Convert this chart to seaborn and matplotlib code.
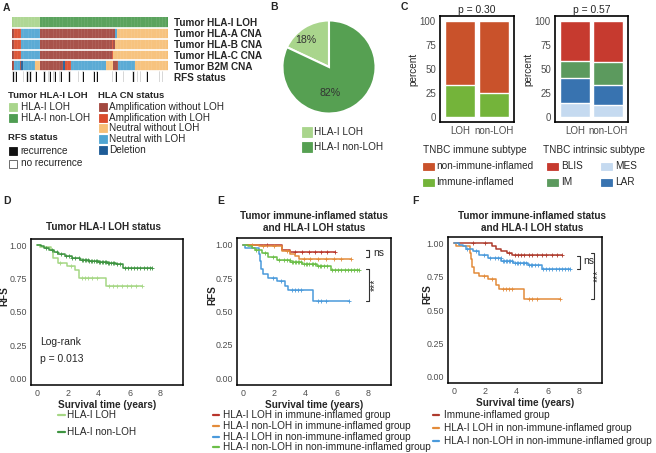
import numpy as np
import matplotlib
matplotlib.use("Agg")
import matplotlib.pyplot as plt
from matplotlib.colors import ListedColormap
from matplotlib.patches import Rectangle
from matplotlib.lines import Line2D
import seaborn as sns

sns.set_theme(style="white")
plt.rcParams["font.family"] = ["Liberation Sans", "DejaVu Sans"]
plt.rcParams["font.size"] = 7

# ---- data -----------------------------------------------------------------
# panel A: heatmap rows as run lengths (code, n samples)
heat_codes = ["HLA-I LOH", "HLA-I non-LOH", "Amplification without LOH",
              "Amplification with LOH", "Neutral without LOH", "Neutral with LOH",
              "Deletion", "no recurrence", "recurrence"]
heat_colors = ["#A9D58C", "#4F9D52", "#A2473E", "#DA4B2C", "#F7BF76",
               "#4FA5D2", "#1E5C97", "#FFFFFF", "#111111"]
row_labels = ["Tumor HLA-I LOH", "Tumor HLA-A CNA", "Tumor HLA-B CNA",
              "Tumor HLA-C CNA", "Tumor B2M CNA", "RFS status"]
loh_runs = [(0, 18), (1, 82)]
hla_a_runs = [(2, 1), (3, 5), (5, 12), (2, 48), (5, 1), (4, 33)]
hla_b_runs = [(2, 1), (3, 5), (5, 12), (2, 46), (3, 1), (2, 1), (4, 34)]
hla_c_runs = [(2, 1), (3, 5), (5, 12), (2, 46), (3, 1), (4, 35)]
b2m_runs = [(2, 1), (5, 4), (2, 1), (6, 1), (5, 8), (4, 3), (2, 15), (6, 1),
            (3, 4), (5, 22), (4, 5), (2, 3), (5, 11), (4, 21)]
recurrence_idx = [0, 1, 2, 7, 9, 10, 11, 12, 15, 20, 21, 23, 24, 26, 27, 30, 31,
                  36, 37, 42, 45, 52, 54, 64, 66, 71, 77, 78, 80, 82, 86, 94, 96]

# panel B
pie_labels = ["HLA-I LOH", "HLA-I non-LOH"]
pie_values = [18, 82]
pie_colors = ["#A9D58C", "#56A052"]

# panel C
c_groups = ["LOH", "non-LOH"]
immune_names = ["non-immune-inflamed", "Immune-inflamed"]
immune_colors = ["#C9522B", "#74B43A"]
immune_inflamed = [33, 25]
non_immune = [67, 75]
intrinsic_colors = {"BLIS": "#C63A2F", "IM": "#5C9A5E", "LAR": "#3873B0", "MES": "#C5DAF0"}
mes = [15, 12.5]
lar = [26, 21]
im = [17, 24]
blis = [42, 42.5]

# panel D
d_loh_t = [0, 0.2, 0.9, 1.07, 1.4, 1.95, 2.5, 2.7, 4.5]
d_loh_s = [1.0, 0.985, 0.965, 0.90, 0.865, 0.84, 0.81, 0.755, 0.69]
d_loh_end = 6.8
d_loh_cens = [1.5, 2.2, 2.9, 3.1, 3.3, 3.6, 3.9, 4.7, 4.9, 5.2, 5.5, 5.8, 6.1, 6.4, 6.8]
d_non_t = [0, 0.25, 0.5, 0.8, 1.1, 1.4, 1.8, 2.3, 2.8, 3.4, 4.0, 4.6, 5.1, 5.55]
d_non_s = [1.0, 0.99, 0.98, 0.965, 0.95, 0.935, 0.92, 0.905, 0.89, 0.88, 0.872,
           0.865, 0.855, 0.825]
d_non_end = 7.44
d_non_cens = [0.6, 1.0, 1.3, 1.6, 1.9, 2.1, 2.3, 2.5, 2.7, 2.9, 3.0, 3.1, 3.2, 3.3,
              3.4, 3.5, 3.6, 3.7, 3.8, 3.9, 4.0, 4.1, 4.2, 4.3, 4.4, 4.5, 4.6, 4.7,
              4.8, 4.9, 5.0, 5.2, 5.4, 5.7, 5.9, 6.1, 6.3, 6.5, 6.7, 6.9, 7.1, 7.3, 7.44]

# panel E / F groups
ii_loh_t = [0, 2.5, 3.0]
ii_loh_s = [1.0, 0.965, 0.945]
ii_loh_end = 5.9
ii_loh_cens = [1.5, 3.3, 3.8, 4.2, 4.6, 5.0, 5.4, 5.9]
ii_non_t = [0, 1.0, 2.5, 3.0, 3.3, 3.6]
ii_non_s = [1.0, 0.99, 0.955, 0.93, 0.915, 0.898]
ii_non_end = 6.9
ii_non_cens = [0.6, 1.3, 2.0, 2.8, 3.9, 4.3, 4.8, 5.3, 5.8, 6.3, 6.9]
nii_loh_t = [0, 0.13, 1.0, 1.08, 1.15, 1.3, 1.6, 2.17, 2.7, 2.9, 4.5]
nii_loh_s = [1.0, 0.98, 0.93, 0.88, 0.82, 0.78, 0.755, 0.73, 0.69, 0.66, 0.58]
nii_loh_end = 6.8
nii_loh_cens = [1.9, 2.4, 3.1, 3.3, 3.5, 3.7, 4.8, 5.0, 5.3, 6.8]
nii_non_t = [0, 0.3, 0.56, 0.78, 1.2, 1.6, 2.17, 3.03, 3.8, 4.75, 5.6]
nii_non_s = [1.0, 0.99, 0.98, 0.96, 0.94, 0.91, 0.89, 0.87, 0.855, 0.84, 0.81]
nii_non_end = 7.44
nii_non_cens = [0.8, 1.4, 1.9, 2.3, 2.6, 2.8, 3.0, 3.1, 3.2, 3.3, 3.4, 3.5, 3.6, 3.7,
                3.9, 4.0, 4.1, 4.2, 4.4, 4.5, 4.6, 4.8, 4.9, 5.0, 5.2, 5.4, 5.7, 5.9,
                6.1, 6.3, 6.5, 6.7, 6.9, 7.1, 7.3, 7.44]
ii_all_t = [0, 2.4, 2.7, 3.0, 3.4, 3.7]
ii_all_s = [1.0, 0.98, 0.955, 0.94, 0.925, 0.91]
ii_all_end = 6.9
ii_all_cens = [1.2, 2.0, 3.5, 3.9, 4.1, 4.3, 4.5, 4.8, 5.0, 5.3, 5.6, 5.9, 6.3, 6.6, 6.9]

e_labels = ["HLA-I LOH in immune-inflamed group", "HLA-I non-LOH in immune-inflamed group",
            "HLA-I LOH in non-immune-inflamed group", "HLA-I non-LOH in non-immune-inflamed group"]
e_colors = ["#B8342A", "#E38B3A", "#4A9ADB", "#6BBE48"]
f_labels = ["Immune-inflamed group", "HLA-I LOH in non-immune-inflamed group",
            "HLA-I non-LOH in non-immune-inflamed group"]
f_colors = ["#AE3A2C", "#E38B3A", "#4A9ADB"]
d_labels = ["HLA-I LOH", "HLA-I non-LOH"]
d_colors = ["#A6D785", "#3E9441"]

# ---- figure helpers (pixel coordinates, origin top-left) --------------------
W, H = 656, 453
fig = plt.figure(figsize=(W / 100, H / 100), dpi=100)
GREY = "#4D4D4D"
FS = 7.2


def add_ax(l, t, r, b):
    return fig.add_axes([l / W, 1 - b / H, (r - l) / W, (b - t) / H])


def ftext(x, y, s, **kw):
    kw.setdefault("va", "center")
    kw.setdefault("ha", "left")
    fig.text(x / W, 1 - y / H, s, **kw)


def fsquare(x, y, w, h, color, ec=None):
    fig.add_artist(Rectangle((x / W, 1 - (y + h) / H), w / W, h / H,
                             transform=fig.transFigure, fc=color,
                             ec=ec or color, lw=0.6))


def fline(x0, x1, y, color):
    fig.add_artist(Line2D([x0 / W, x1 / W], [1 - y / H] * 2,
                          transform=fig.transFigure, color=color, lw=1.6))


def km(ax, t, s, end, cens, color):
    xs = list(t) + [end]
    ys = list(s) + [s[-1]]
    sns.lineplot(x=xs, y=ys, ax=ax, color=color, lw=1.1, drawstyle="steps-post",
                 estimator=None, sort=False)
    cy = [s[np.searchsorted(t, c, side="right") - 1] for c in cens]
    ax.plot(cens, cy, ls="none", marker="+", ms=3, mew=0.6, color=color)


def km_axes(ax, lab_x):
    ax.set_xlim(-0.37, 9.45)
    ax.set_ylim(-0.05, 1.05)
    ax.set_xticks([0, 2, 4, 6, 8])
    ax.set_yticks([0, 0.25, 0.5, 0.75, 1.0])
    ax.set_yticklabels(["0.00", "0.25", "0.50", "0.75", "1.00"])
    ax.tick_params(length=2, width=0.5, color=GREY, labelcolor=GREY, labelsize=6.4, pad=1)
    for sp in ax.spines.values():
        sp.set_color("black")
        sp.set_linewidth(1.1)
    ax.set_xlabel("Survival time (years)", fontweight="bold", fontsize=7.2, labelpad=1)
    ax.set_ylabel("RFS", fontweight="bold", fontsize=7.2)
    ax.yaxis.set_label_coords(lab_x, 0.61)


def bracket(ax, x, y0, y1, w=0.2):
    ax.plot([x - w, x, x, x - w], [y0, y0, y1, y1], color="#333333", lw=0.8, clip_on=False)


# ---- panel A --------------------------------------------------------------
rows = [loh_runs, hla_a_runs, hla_b_runs, hla_c_runs, b2m_runs]
mat = [np.repeat([c for c, n in r], [n for c, n in r]) for r in rows]
rfs_row = np.full(len(mat[0]), 7)
rfs_row[recurrence_idx] = 8
mat.append(rfs_row)
mat = np.vstack(mat)

axA = add_ax(12, 17, 168, 82)
sns.heatmap(mat, ax=axA, cmap=ListedColormap(heat_colors), vmin=-0.5,
            vmax=len(heat_colors) - 0.5, cbar=False, xticklabels=False,
            yticklabels=row_labels)
axA.vlines(np.arange(1, mat.shape[1]), 0, 5, color="white", lw=0.3, alpha=0.35)
axA.vlines(np.arange(0, mat.shape[1] + 1), 5, 6, color="white", lw=0.6)
for i in range(1, 6):
    axA.axhline(i, color="white", lw=1.2)
axA.yaxis.tick_right()
axA.tick_params(axis="y", length=0, pad=4)
for lab in axA.get_yticklabels():
    lab.set_rotation(0)
    lab.set_fontweight("bold")
    lab.set_fontsize(7.2)

ftext(3, 8, "A", fontweight="bold", fontsize=7.5)
ftext(8, 95, "Tumor HLA-I LOH", fontweight="bold", fontsize=6.8)
ftext(98, 95, "HLA CN status", fontweight="bold", fontsize=6.8)
for k, yy in enumerate([106.7, 118]):
    fsquare(9.3, yy - 4, 8, 8, heat_colors[k])
    ftext(20.7, yy, heat_codes[k], fontsize=FS)
ftext(8, 137.7, "RFS status", fontweight="bold", fontsize=6.8)
fsquare(9.3, 147, 8, 8, heat_colors[8])
ftext(20.7, 151, heat_codes[8], fontsize=FS)
fsquare(9.3, 159.5, 8, 8, "white", ec="#555555")
ftext(20.7, 163.5, heat_codes[7], fontsize=FS)
for k, yy in enumerate([106.7, 117.7, 128.3, 139.3, 150]):
    fsquare(99.3, yy - 4, 7.5, 8, heat_colors[k + 2])
    ftext(109.3, yy, heat_codes[k + 2], fontsize=FS)

# ---- panel B --------------------------------------------------------------
axB = add_ax(282, 20, 376, 114)
wedges, texts, autotexts = axB.pie(
    pie_values, colors=pie_colors, startangle=90, counterclock=True,
    autopct=lambda p: f"{p:.0f}%", pctdistance=0.62,
    wedgeprops=dict(edgecolor="white", linewidth=1.5),
    textprops=dict(fontsize=7.6, color="#333333"))
autotexts[0].set_position((-0.5, 0.57))
autotexts[1].set_position((0.02, -0.55))
axB.set_xlim(-1.01, 1.01)
axB.set_ylim(-1.01, 1.01)
ftext(270, 7, "B", fontweight="bold", fontsize=7.5)
for k, yy in enumerate([132, 147]):
    fsquare(301.7, yy - 5, 10, 10, pie_colors[k])
    ftext(314, yy, pie_labels[k], fontsize=FS)

# ---- panel C --------------------------------------------------------------
ftext(401, 7, "C", fontweight="bold", fontsize=7.5)
axC1 = add_ax(440, 16, 514, 122)
axC2 = add_ax(555, 16, 628, 122)
tot = [a + b for a, b in zip(immune_inflamed, non_immune)]
sns.barplot(x=c_groups, y=tot, color=immune_colors[0], width=0.9, saturation=1, ax=axC1)
sns.barplot(x=c_groups, y=immune_inflamed, color=immune_colors[1], width=0.9, saturation=1, ax=axC1)
cum_mes = mes
cum_lar = [a + b for a, b in zip(mes, lar)]
cum_im = [a + b for a, b in zip(cum_lar, im)]
cum_blis = [a + b for a, b in zip(cum_im, blis)]
for vals, name in [(cum_blis, "BLIS"), (cum_im, "IM"), (cum_lar, "LAR"), (cum_mes, "MES")]:
    sns.barplot(x=c_groups, y=vals, color=intrinsic_colors[name], width=0.9,
                saturation=1, ax=axC2)
for ax, p in [(axC1, "p = 0.30"), (axC2, "p = 0.57")]:
    ax.set_xlim(-0.6, 1.6)
    ax.set_ylim(-5, 105)
    ax.set_yticks([0, 25, 50, 75, 100])
    ax.tick_params(length=1.5, width=0.5, color=GREY, labelcolor=GREY, labelsize=7, pad=1.5)
    for sp in ax.spines.values():
        sp.set_color("black")
        sp.set_linewidth(1.2)
    ax.set_ylabel("percent", fontsize=7.2, labelpad=1)
    ax.set_xlabel("")
    ax.set_title(p, fontsize=7.4, pad=2)

ftext(423, 150, "TNBC immune subtype", fontsize=FS)
ftext(543, 150, "TNBC intrinsic subtype", fontsize=FS)
for k, yy in enumerate([166, 182]):
    fsquare(423, yy - 3.5, 10.5, 7, immune_colors[k])
    ftext(436, yy, immune_names[k], fontsize=FS)
for name, xx, yy in [("BLIS", 547, 166), ("IM", 547, 182), ("MES", 601, 166), ("LAR", 601, 182)]:
    fsquare(xx, yy - 3.5, 10.5, 7, intrinsic_colors[name])
    ftext(xx + 14, yy, name, fontsize=FS)

# ---- panel D --------------------------------------------------------------
axD = add_ax(31, 238.5, 183, 385)
km(axD, d_loh_t, d_loh_s, d_loh_end, d_loh_cens, d_colors[0])
km(axD, d_non_t, d_non_s, d_non_end, d_non_cens, d_colors[1])
km_axes(axD, -0.141)
axD.text(0.2, 0.25, "Log-rank", fontsize=7.5)
axD.text(0.2, 0.12, "p = 0.013", fontsize=7.5)
ftext(3, 201, "D", fontweight="bold", fontsize=7.5)
ftext(104, 227, "Tumor HLA-I LOH status", ha="center", fontweight="bold", fontsize=7.2)
for k, yy in enumerate([415, 432]):
    fline(58, 65, yy, d_colors[k])
    ftext(67, yy, d_labels[k], fontsize=FS)

# ---- panel E --------------------------------------------------------------
axE = add_ax(237.3, 238.3, 390.7, 385)
km(axE, ii_loh_t, ii_loh_s, ii_loh_end, ii_loh_cens, e_colors[0])
km(axE, ii_non_t, ii_non_s, ii_non_end, ii_non_cens, e_colors[1])
km(axE, nii_loh_t, nii_loh_s, nii_loh_end, nii_loh_cens, e_colors[2])
km(axE, nii_non_t, nii_non_s, nii_non_end, nii_non_cens, e_colors[3])
km_axes(axE, -0.132)
bracket(axE, 8.08, 0.965, 0.912)
axE.text(8.35, 0.94, "ns", fontsize=7.5, va="center")
bracket(axE, 8.08, 0.818, 0.58)
axE.text(8.45, 0.70, "***", fontsize=7.5, va="center", ha="center", rotation=90)
ftext(217, 201, "E", fontweight="bold", fontsize=7.5)
ftext(314, 222, "Tumor immune-inflamed status\nand HLA-I LOH status", ha="center",
      fontweight="bold", fontsize=7.2, linespacing=1.2)
for k, yy in enumerate([415, 426, 436.7, 447.3]):
    fline(213, 219, yy, e_colors[k])
    ftext(223, yy, e_labels[k], fontsize=FS)

# ---- panel F --------------------------------------------------------------
axF = add_ax(448.3, 236.7, 601.7, 383.3)
km(axF, ii_all_t, ii_all_s, ii_all_end, ii_all_cens, f_colors[0])
km(axF, nii_loh_t, nii_loh_s, nii_loh_end, nii_loh_cens, f_colors[1])
km(axF, nii_non_t, nii_non_s, nii_non_end, nii_non_cens, f_colors[2])
km_axes(axF, -0.106)
bracket(axF, 8.09, 0.905, 0.805)
axF.text(8.25, 0.87, "ns", fontsize=7.5, va="center")
bracket(axF, 8.95, 0.93, 0.58)
axF.text(9.23, 0.755, "***", fontsize=7.5, va="center", ha="center", rotation=90)
ftext(412, 201, "F", fontweight="bold", fontsize=7.5)
ftext(532, 222, "Tumor immune-inflamed status\nand HLA-I LOH status", ha="center",
      fontweight="bold", fontsize=7.2, linespacing=1.2)
for k, yy in enumerate([415, 428, 440.7]):
    fline(433, 439, yy, f_colors[k])
    ftext(444, yy, f_labels[k], fontsize=FS)

fig.savefig("out.png", dpi=100)
